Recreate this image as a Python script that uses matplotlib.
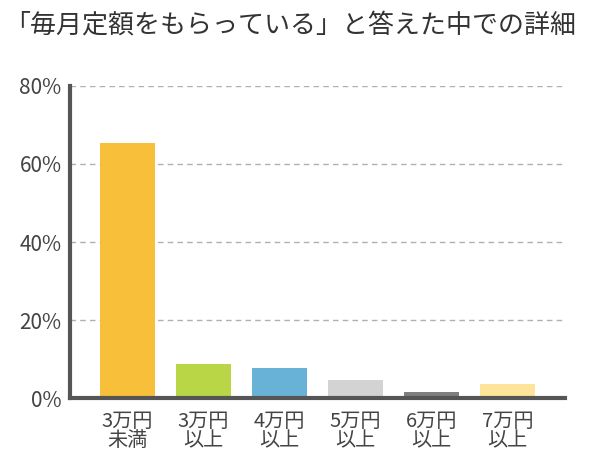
import matplotlib.pyplot as plt
import numpy as np

plt.rcParams['font.family'] = ['Noto Sans CJK JP', 'DejaVu Sans']

# データ
categories = ['3万円\n未満', '3万円\n以上', '4万円\n以上', '5万円\n以上', '6万円\n以上', '7万円\n以上']
values = [65.3, 8.7, 7.7, 4.6, 1.5, 3.6]
colors = ['#F8C03A', '#B8D645', '#68B2D8', '#D3D3D3', '#7F7F7F', '#FDE49A']
yticks = [0, 20, 40, 60, 80]
ytick_labels = ['0%', '20%', '40%', '60%', '80%']
title = '「毎月定額をもらっている」と答えた中での詳細'

fig = plt.figure(figsize=(5.95, 4.61), dpi=100)
ax = fig.add_axes([70 / 595, (461 - 398) / 461, (565 - 70) / 595, (398 - 86) / 461])

x = np.arange(len(categories))
ax.bar(x, values, width=0.72, color=colors, zorder=3)

ax.set_ylim(0, 80)
ax.set_xlim(-0.757, 5.757)
ax.set_yticks(yticks)
ax.set_yticklabels(ytick_labels, fontsize=15, color='#444444')
ax.set_xticks(x)
ax.set_xticklabels(categories, fontsize=14.5, color='#444444', linespacing=0.92)
ax.tick_params(axis='both', length=0)
ax.tick_params(axis='y', pad=6)
ax.tick_params(axis='x', pad=9)

for v in yticks[1:]:
    ax.axhline(v, color='#B0B0B0', linewidth=1.0, linestyle=(0, (4, 3)), zorder=1)

for side in ['top', 'right']:
    ax.spines[side].set_visible(False)
for side in ['left', 'bottom']:
    ax.spines[side].set_color('#555555')
    ax.spines[side].set_linewidth(3)
    ax.spines[side].set_zorder(4)

fig.text(4 / 595, 1 - 25 / 461, title, fontsize=18.7, color='#333333', va='center', ha='left')

fig.savefig('out.png', dpi=100)
